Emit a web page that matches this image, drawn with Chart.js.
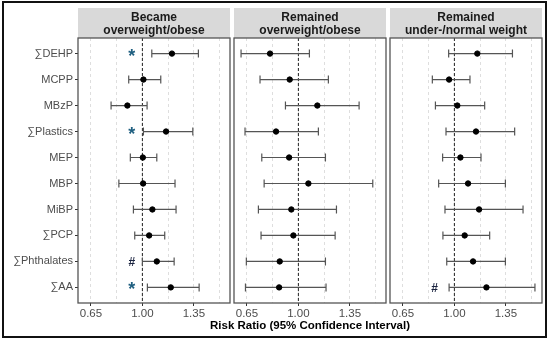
<!DOCTYPE html>
<html>
<head>
<meta charset="utf-8">
<script src="https://cdn.jsdelivr.net/npm/chart.js@4.4.0/dist/chart.umd.min.js"></script>
<style>
  body { margin: 0; background: #fff; }
  #wrap { position: relative; width: 550px; height: 341px; }
  #wrap canvas { position: absolute; left: 0; top: 0; }
  #frame { position: absolute; left: 2px; top: 1px; width: 541px; height: 333px; border: 2px solid #111; pointer-events: none; }
</style>
</head>
<body>
<div id="wrap">
  <canvas id="p1" width="550" height="341"></canvas>
  <canvas id="p2" width="550" height="341"></canvas>
  <canvas id="p3" width="550" height="341"></canvas>
  <div id="frame"></div>
</div>
<script>
const exposures = ['∑DEHP', 'MCPP', 'MBzP', '∑Plastics', 'MEP', 'MBP', 'MiBP', '∑PCP', '∑Phthalates', '∑AA'];
const xTicks = [0.65, 1.00, 1.35];
const xMinor = [0.825, 1.175, 1.525];

// Became overweight/obese
const rrBecame = [1.201, 1.007, 0.898, 1.161, 1.003, 1.005, 1.068, 1.046, 1.098, 1.193];
const loBecame = [1.064, 0.907, 0.787, 1.007, 0.918, 0.840, 0.939, 0.948, 1.000, 1.034];
const hiBecame = [1.381, 1.125, 1.032, 1.343, 1.098, 1.222, 1.229, 1.152, 1.216, 1.386];
const sigBecame = ['*', '', '', '*', '', '', '', '', '#', '*'];

// Remained overweight/obese
const rrRemOW = [0.807, 0.941, 1.129, 0.848, 0.937, 1.068, 0.952, 0.966, 0.873, 0.869];
const loRemOW = [0.610, 0.739, 0.912, 0.637, 0.751, 0.767, 0.728, 0.746, 0.646, 0.640];
const hiRemOW = [1.075, 1.204, 1.413, 1.136, 1.184, 1.506, 1.259, 1.250, 1.184, 1.188];
const sigRemOW = ['', '', '', '', '', '', '', '', '', ''];

// Remained under-/normal weight
const rrRemNW = [1.156, 0.964, 1.020, 1.147, 1.041, 1.093, 1.168, 1.070, 1.127, 1.218];
const loRemNW = [0.961, 0.850, 0.871, 0.943, 0.920, 0.893, 0.936, 0.922, 0.948, 0.964];
const hiRemNW = [1.395, 1.106, 1.206, 1.410, 1.181, 1.347, 1.467, 1.240, 1.347, 1.548];
const sigRemNW = ['', '', '', '', '', '', '', '', '', '#'];

const xTitle = 'Risk Ratio (95% Confidence Interval)';
const FONT = "'Liberation Sans', Arial, sans-serif";

// grey strip on top of each panel, dashed 1.00 line, CIs, markers, panel border
const forestPlugin = {
  id: 'forest',
  beforeDraw(chart, args, opts) {
    const { ctx, chartArea: a } = chart;
    ctx.save();
    ctx.fillStyle = '#d9d9d9';
    ctx.fillRect(a.left, 8, a.right - a.left, a.top - 8);
    ctx.fillStyle = '#1a1a1a';
    ctx.font = 'bold 12px ' + FONT;
    ctx.textAlign = 'center';
    ctx.textBaseline = 'middle';
    const cx = (a.left + a.right) / 2;
    ctx.fillText(opts.strip[0], cx, 18);
    ctx.fillText(opts.strip[1], cx, 30.5);
    ctx.restore();
  },
  beforeDatasetsDraw(chart, args, opts) {
    const { ctx, chartArea: a } = chart;
    const xs = chart.scales.x, ys = chart.scales.y;
    ctx.save();
    // reference line
    const x1 = xs.getPixelForValue(1);
    ctx.strokeStyle = '#222';
    ctx.lineWidth = 1;
    ctx.setLineDash([3, 2]);
    ctx.beginPath();
    ctx.moveTo(x1, a.top);
    ctx.lineTo(x1, a.bottom);
    ctx.stroke();
    ctx.setLineDash([]);
    // confidence intervals
    ctx.strokeStyle = '#555';
    ctx.lineWidth = 1.2;
    opts.lo.forEach((lo, i) => {
      const y = ys.getPixelForValue(i + 1);
      const l = xs.getPixelForValue(lo);
      const r = xs.getPixelForValue(opts.hi[i]);
      ctx.beginPath();
      ctx.moveTo(l, y); ctx.lineTo(r, y);
      ctx.moveTo(l, y - 4); ctx.lineTo(l, y + 4);
      ctx.moveTo(r, y - 4); ctx.lineTo(r, y + 4);
      ctx.stroke();
    });
    // significance markers
    ctx.textAlign = 'center';
    ctx.textBaseline = 'alphabetic';
    opts.sig.forEach((s, i) => {
      if (!s) return;
      const y = ys.getPixelForValue(i + 1);
      const x = xs.getPixelForValue(opts.markAt);
      if (s === '*') {
        ctx.fillStyle = '#1f5f80';
        ctx.font = 'bold 18px ' + FONT;
        ctx.fillText(s, x, y + 8);
      } else {
        ctx.fillStyle = '#1b2440';
        ctx.font = 'bold 12px ' + FONT;
        ctx.fillText(s, x, y + 4.5);
      }
    });
    ctx.restore();
  },
  afterDraw(chart, args, opts) {
    const { ctx, chartArea: a } = chart;
    ctx.save();
    ctx.strokeStyle = '#555';
    ctx.lineWidth = 1.3;
    ctx.strokeRect(a.left, a.top, a.right - a.left, a.bottom - a.top);
    if (opts.title) {
      ctx.fillStyle = '#000';
      ctx.font = 'bold 11.5px ' + FONT;
      ctx.textAlign = 'center';
      ctx.textBaseline = 'middle';
      ctx.fillText(opts.title, (a.left + a.right) / 2, 326);
    }
    ctx.restore();
  }
};

function makePanel(id, cfg) {
  const points = cfg.rr.map((v, i) => ({ x: v, y: i + 1 }));
  new Chart(document.getElementById(id), {
    type: 'scatter',
    data: {
      datasets: [{
        data: points,
        backgroundColor: '#000',
        borderColor: '#000',
        pointRadius: 2.7,
        pointHoverRadius: 2.7
      }]
    },
    options: {
      responsive: false,
      animation: false,
      layout: { padding: { left: cfg.padL, right: cfg.padR, top: 38, bottom: 8 } },
      plugins: {
        legend: { display: false },
        tooltip: { enabled: false },
        forest: { strip: cfg.strip, lo: cfg.lo, hi: cfg.hi, sig: cfg.sig, markAt: cfg.markAt, title: cfg.title }
      },
      scales: {
        x: {
          type: 'linear',
          min: 0.562,
          max: 1.596,
          afterBuildTicks: s => {
            s.ticks = xTicks.concat(xMinor).sort((a, b) => a - b).map(v => ({ value: v }));
          },
          ticks: {
            autoSkip: false,
            maxRotation: 0,
            padding: 1,
            color: '#4d4d4d',
            font: { family: FONT, size: 11.5 },
            callback: v => xTicks.includes(v) ? v.toFixed(2) : ''
          },
          grid: {
            color: '#dedede',
            tickLength: 3,
            tickColor: ctx => (ctx.tick && xTicks.includes(ctx.tick.value)) ? '#333' : 'rgba(0,0,0,0)'
          },
          border: { display: false, dash: [3, 3] },
          afterFit: s => { s.height = 30; }
        },
        y: {
          type: 'linear',
          reverse: true,
          min: 0.4,
          max: 10.6,
          display: cfg.showY,
          afterBuildTicks: s => {
            s.ticks = exposures.map((_, i) => ({ value: i + 1 }));
          },
          ticks: {
            autoSkip: false,
            padding: 2,
            color: '#4d4d4d',
            font: { family: FONT, size: 11 },
            callback: v => exposures[v - 1]
          },
          grid: { drawOnChartArea: false, tickLength: 3, tickColor: '#333' },
          border: { display: false },
          afterFit: s => { if (cfg.showY) s.width = 78; }
        }
      }
    },
    plugins: [forestPlugin]
  });
}

makePanel('p1', {
  rr: rrBecame, lo: loBecame, hi: hiBecame, sig: sigBecame, markAt: 0.928,
  strip: ['Became', 'overweight/obese'],
  padL: 0, padR: 320, showY: true, title: ''
});
makePanel('p2', {
  rr: rrRemOW, lo: loRemOW, hi: hiRemOW, sig: sigRemOW, markAt: 0.928,
  strip: ['Remained', 'overweight/obese'],
  padL: 234, padR: 164, showY: false, title: xTitle
});
makePanel('p3', {
  rr: rrRemNW, lo: loRemNW, hi: hiRemNW, sig: sigRemNW, markAt: 0.866,
  strip: ['Remained', 'under-/normal weight'],
  padL: 390, padR: 8, showY: false, title: ''
});
</script>
</body>
</html>
